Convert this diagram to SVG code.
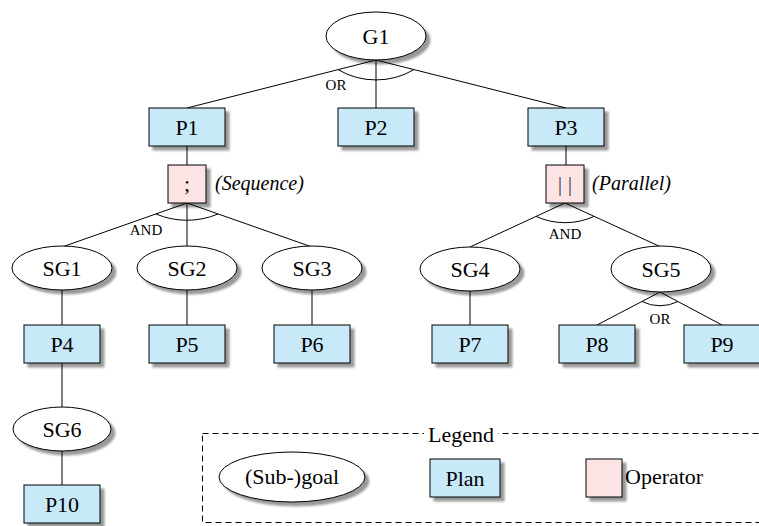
<svg xmlns="http://www.w3.org/2000/svg" width="759" height="526" viewBox="0 0 759 526" font-family="'Liberation Serif', 'DejaVu Serif', 'Times New Roman', serif">
<defs>
<filter id="sh" x="-20%" y="-20%" width="150%" height="160%">
<feGaussianBlur in="SourceAlpha" stdDeviation="1.2" result="b"/>
<feOffset in="b" dx="4" dy="4" result="o"/>
<feComponentTransfer in="o" result="s"><feFuncA type="linear" slope="0.4"/></feComponentTransfer>
<feMerge><feMergeNode in="s"/><feMergeNode in="SourceGraphic"/></feMerge>
</filter>
</defs>
<style>
.goal{fill:#fff;stroke:#000;stroke-width:1;filter:url(#sh)}
.plan{fill:#c8eaf8;stroke:#000;stroke-width:1;filter:url(#sh)}
.op{fill:#fde4e4;stroke:#000;stroke-width:1;filter:url(#sh)}
text{font-family:'Liberation Serif','DejaVu Serif','Times New Roman',serif}
.l{font-size:22px;text-anchor:middle;dominant-baseline:central;fill:#000}
.s{font-size:15px;text-anchor:middle;fill:#000}
.i{font-size:20px;font-style:italic;dominant-baseline:central;fill:#000}
.c line,.c path{stroke:#000;stroke-width:1;fill:none}
</style>
<rect width="759" height="526" fill="#fff"/>
<g class="c" id="connectors">
<line x1="376" y1="60" x2="187" y2="108"/>
<line x1="376" y1="60" x2="376" y2="108"/>
<line x1="376" y1="60" x2="566" y2="108"/>
<path d="M338,69.6 A75,75 0 0 0 414,69.6"/>
<line x1="187" y1="146" x2="187" y2="165"/>
<line x1="566" y1="146" x2="566" y2="165"/>
<line x1="187" y1="203" x2="62" y2="247"/>
<line x1="187" y1="203" x2="187" y2="247"/>
<line x1="187" y1="203" x2="312" y2="247"/>
<path d="M156,214 A80,80 0 0 0 218,214"/>
<line x1="565" y1="203" x2="470" y2="247"/>
<line x1="565" y1="203" x2="661" y2="247"/>
<path d="M536,216.4 A70,70 0 0 0 594,216.4"/>
<line x1="62" y1="290" x2="62" y2="325"/>
<line x1="187" y1="290" x2="187" y2="325"/>
<line x1="312" y1="290" x2="312" y2="325"/>
<line x1="470" y1="290" x2="470" y2="325"/>
<line x1="660" y1="292" x2="597" y2="325"/>
<line x1="660" y1="292" x2="722" y2="325"/>
<path d="M642,301.5 A40,40 0 0 0 678,301.5"/>
<line x1="62" y1="363" x2="62" y2="407"/>
<line x1="62" y1="451" x2="62" y2="485"/>
</g>
<text class="s" x="336" y="90">OR</text>
<text class="s" x="146" y="235">AND</text>
<text class="s" x="565" y="239">AND</text>
<text class="s" x="660" y="324">OR</text>
<g id="G1"><ellipse class="goal" cx="376" cy="36" rx="50" ry="24"/><text class="l" x="376" y="36">G1</text></g>
<g id="P1"><rect class="plan" x="149" y="108" width="76" height="38"/><text class="l" x="187" y="127">P1</text></g>
<g id="P2"><rect class="plan" x="338" y="108" width="76" height="38"/><text class="l" x="376" y="127">P2</text></g>
<g id="P3"><rect class="plan" x="528" y="108" width="76" height="38"/><text class="l" x="566" y="127">P3</text></g>
<g id="OpSeq"><rect class="op" x="168" y="165" width="38" height="38"/><text class="l" x="187" y="183">;</text><text class="i" x="215" y="183">(Sequence)</text></g>
<g id="OpPar"><rect class="op" x="546" y="165" width="38" height="38"/><text class="l" x="565" y="183" style="fill:#444">| |</text><text class="i" x="592" y="183">(Parallel)</text></g>
<g id="SG1"><ellipse class="goal" cx="62" cy="268" rx="50" ry="22"/><text class="l" x="62" y="268">SG1</text></g>
<g id="SG2"><ellipse class="goal" cx="187" cy="268" rx="50" ry="22"/><text class="l" x="187" y="268">SG2</text></g>
<g id="SG3"><ellipse class="goal" cx="312" cy="268" rx="50" ry="22"/><text class="l" x="312" y="268">SG3</text></g>
<g id="SG4"><ellipse class="goal" cx="470" cy="269" rx="50" ry="22"/><text class="l" x="470" y="269">SG4</text></g>
<g id="SG5"><ellipse class="goal" cx="661" cy="269" rx="50" ry="23"/><text class="l" x="661" y="269">SG5</text></g>
<g id="P4"><rect class="plan" x="24" y="325" width="76" height="38"/><text class="l" x="62" y="344">P4</text></g>
<g id="P5"><rect class="plan" x="149" y="325" width="76" height="38"/><text class="l" x="187" y="344">P5</text></g>
<g id="P6"><rect class="plan" x="274" y="325" width="76" height="38"/><text class="l" x="312" y="344">P6</text></g>
<g id="P7"><rect class="plan" x="432" y="325" width="76" height="38"/><text class="l" x="470" y="344">P7</text></g>
<g id="P8"><rect class="plan" x="559" y="325" width="76" height="38"/><text class="l" x="597" y="344">P8</text></g>
<g id="P9"><rect class="plan" x="684" y="325" width="76" height="38"/><text class="l" x="722" y="344">P9</text></g>
<g id="SG6"><ellipse class="goal" cx="62" cy="429" rx="49" ry="22"/><text class="l" x="62" y="429">SG6</text></g>
<g id="P10"><rect class="plan" x="24" y="485" width="76" height="38"/><text class="l" x="62" y="504">P10</text></g>
<g id="legend">
<rect x="202.5" y="433.5" width="570" height="89" fill="none" stroke="#000" stroke-width="1" stroke-dasharray="6,4"/>
<rect x="424" y="424" width="74" height="20" fill="#fff"/>
<text class="l" x="461" y="434">Legend</text>
<ellipse class="goal" cx="292" cy="477" rx="73" ry="25"/>
<text class="l" x="292" y="476">(Sub-)goal</text>
<rect class="plan" x="430" y="459" width="70" height="38"/>
<text class="l" x="465" y="478">Plan</text>
<rect class="op" x="586" y="459" width="36" height="38"/>
<text class="l" x="625" y="476" style="text-anchor:start">Operator</text>
</g>
</svg>
